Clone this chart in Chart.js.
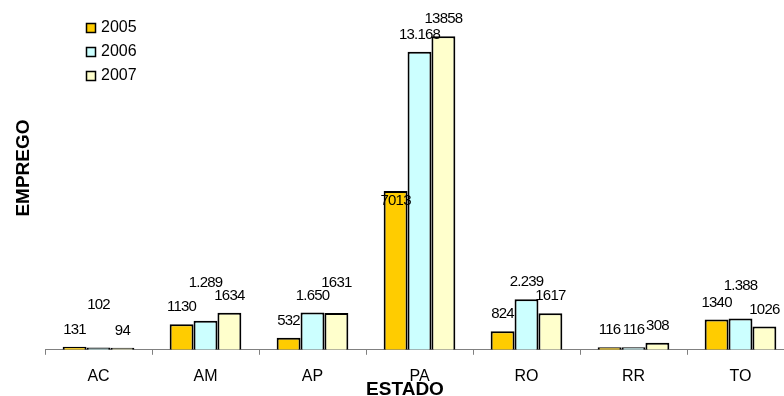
<!DOCTYPE html>
<html>
<head>
<meta charset="utf-8">
<script src="https://cdn.jsdelivr.net/npm/chart.js@4/dist/chart.umd.min.js"></script>
<style>
  html, body { margin: 0; padding: 0; background: #fff; overflow: hidden; }
  #wrap { width: 800px; height: 396px; }
</style>
</head>
<body>
<div id="wrap"><canvas id="c" width="800" height="396"></canvas></div>
<script>
// Employment by state, 2005–2007
const estados = ['AC', 'AM', 'AP', 'PA', 'RO', 'RR', 'TO'];
const anos = ['2005', '2006', '2007'];
const emprego2005 = [131, 1130, 532, 7013, 824, 116, 1340];
const emprego2006 = [102, 1289, 1650, 13168, 2239, 116, 1388];
const emprego2007 = [94, 1634, 1631, 13858, 1617, 308, 1026];

// 2006 labels are printed with a thousands separator
const groupThousands = [false, true, false];
// vertical nudges for a few value labels (px, negative = up)
const labelNudge = [
  [0, 0, 0, 27, 0, 0, 0],
  [-26, -21, 0, 0, 0, 0, -16],
  [0, 0, -13, 0, 0, 0, 0]
];

const fills = ['#FFCC00', '#CCFFFF', '#FFFFCC'];
const FONT = '"Liberation Sans", Arial, sans-serif';

function fmt(v, dots) {
  const s = String(v);
  return dots ? s.replace(/\B(?=(\d{3})+(?!\d))/g, '.') : s;
}

const valueLabels = {
  id: 'valueLabels',
  afterDatasetsDraw(chart) {
    const ctx = chart.ctx;
    ctx.save();
    ctx.font = '15px ' + FONT;
    if ('letterSpacing' in ctx) ctx.letterSpacing = '-0.8px';
    ctx.fillStyle = '#000';
    ctx.textAlign = 'center';
    ctx.textBaseline = 'middle';
    chart.data.datasets.forEach((ds, di) => {
      const meta = chart.getDatasetMeta(di);
      meta.data.forEach((bar, i) => {
        const txt = fmt(ds.data[i], groupThousands[di]);
        ctx.fillText(txt, bar.x, bar.y - 17 + labelNudge[di][i]);
      });
    });
    ctx.restore();
  }
};

const decorations = {
  id: 'decorations',
  afterDraw(chart) {
    const ctx = chart.ctx;
    ctx.save();
    // legend
    ctx.font = '16px ' + FONT;
    ctx.textBaseline = 'middle';
    ctx.textAlign = 'left';
    chart.data.datasets.forEach((ds, di) => {
      const y = 28 + di * 24;
      ctx.fillStyle = ds.backgroundColor;
      ctx.fillRect(86.5, y - 4.5, 9, 9);
      ctx.strokeStyle = '#000';
      ctx.lineWidth = 1.5;
      ctx.strokeRect(86.5, y - 4.5, 9, 9);
      ctx.fillStyle = '#000';
      ctx.fillText(ds.label, 101, y);
    });
    // axis titles
    ctx.font = 'bold 19px ' + FONT;
    ctx.textAlign = 'center';
    ctx.textBaseline = 'alphabetic';
    ctx.fillText('ESTADO', 405, 395);
    ctx.translate(29, 168);
    ctx.rotate(-Math.PI / 2);
    ctx.fillText('EMPREGO', 0, 0);
    ctx.restore();
  }
};

const seriesValues = [emprego2005, emprego2006, emprego2007];

new Chart(document.getElementById('c'), {
  type: 'bar',
  data: {
    labels: estados,
    datasets: anos.map((a, k) => ({
      label: a,
      data: seriesValues[k],
      backgroundColor: fills[k],
      borderColor: '#000',
      borderWidth: 2,
      borderSkipped: 'bottom',
      categoryPercentage: 0.67,
      barPercentage: 1.0
    }))
  },
  options: {
    responsive: false,
    animation: false,
    layout: { padding: { left: 45, right: 6, top: 33, bottom: -2 } },
    plugins: { legend: { display: false }, tooltip: { enabled: false } },
    scales: {
      x: {
        offset: true,
        grid: {
          display: true,
          offset: true,
          drawOnChartArea: false,
          drawTicks: true,
          tickLength: 5,
          color: '#808080'
        },
        border: { display: true, color: '#808080', width: 1 },
        ticks: {
          color: '#000',
          font: { family: FONT, size: 16 },
          padding: 12
        }
      },
      y: {
        display: false,
        min: 0,
        max: 14000
      }
    }
  },
  plugins: [valueLabels, decorations]
});
</script>
</body>
</html>
